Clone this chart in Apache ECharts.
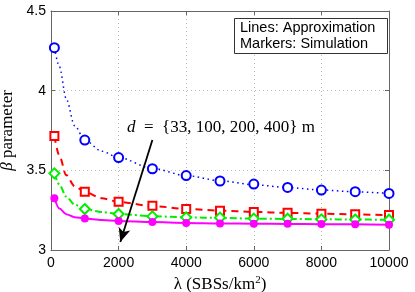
<!DOCTYPE html>
<html>
<head>
<meta charset="utf-8">
<script src="https://cdn.jsdelivr.net/npm/echarts@6/dist/echarts.min.js"></script>
<style>
html,body{margin:0;padding:0;background:#fff;}
#chart{width:415px;height:292px;}
</style>
</head>
<body>
<div id="chart"></div>
<script>
// Simulation markers
const xSim = [100, 1000, 2000, 3000, 4000, 5000, 6000, 7000, 8000, 9000, 10000];
const simD33  = [4.27, 3.69, 3.58, 3.51, 3.467, 3.433, 3.414, 3.393, 3.376, 3.366, 3.355];
const simD100 = [3.715, 3.365, 3.303, 3.278, 3.257, 3.246, 3.238, 3.234, 3.228, 3.224, 3.219];
const simD200 = [3.481, 3.257, 3.226, 3.211, 3.205, 3.203, 3.197, 3.196, 3.192, 3.191, 3.190];
const simD400 = [3.325, 3.198, 3.182, 3.175, 3.169, 3.166, 3.165, 3.164, 3.163, 3.161, 3.159];

// Approximation curves
const xApx = [100, 250, 450, 700, 1000, 1500, 2000, 3000, 4000, 5000, 6000, 7000, 8000, 9000, 10000];
const apxD33  = [4.27, 4.15, 3.95, 3.78, 3.69, 3.62, 3.58, 3.512, 3.467, 3.435, 3.41, 3.392, 3.377, 3.365, 3.355];
const apxD100 = [3.715, 3.59, 3.47, 3.40, 3.365, 3.325, 3.302, 3.276, 3.258, 3.247, 3.239, 3.233, 3.228, 3.223, 3.219];
const apxD200 = [3.481, 3.41, 3.335, 3.285, 3.257, 3.238, 3.226, 3.212, 3.205, 3.201, 3.197, 3.195, 3.193, 3.191, 3.190];
const apxD400 = [3.325, 3.26, 3.225, 3.206, 3.198, 3.188, 3.182, 3.175, 3.170, 3.167, 3.165, 3.163, 3.162, 3.161, 3.159];

const xTicks = [0, 2000, 4000, 6000, 8000, 10000];
const yTicks = [3, 3.5, 4, 4.5];
const annotText = '{33, 100, 200, 400}';
const arrowFrom = [3000, 3.69];
const arrowTo = [2050, 3.05];

const zip = (xs, ys) => xs.map((x, i) => [x, ys[i]]);

const chart = echarts.init(document.getElementById('chart'), null, {renderer: 'canvas'});
const axisColor = '#666';
const tickFont = {fontFamily: 'Liberation Sans, Arial, sans-serif', fontSize: 14, color: '#000'};

function lineSeries(data, color, type, width) {
  return {type: 'line', data: data, showSymbol: false, symbol: 'none', smooth: 0.3, smoothMonotone: 'x',
    lineStyle: {color: color, width: width, type: type}, z: 2, silent: true, animation: false};
}
function markSeries(data, color, symbol, size, filled) {
  return {type: 'scatter', data: data, symbol: symbol, symbolSize: size,
    itemStyle: {color: filled ? color : '#fff', borderColor: color, borderWidth: filled ? 0 : 2, opacity: 1},
    z: 3, silent: true, animation: false};
}

const option = {
  backgroundColor: '#fff',
  animation: false,
  grid: {left: 51, right: 26, top: 11, bottom: 42, containLabel: false, outerBoundsMode: 'none'},
  xAxis: [{
    type: 'value', min: 0, max: 10000, interval: 2000,
    name: 'λ (SBSs/km{s|2})', nameLocation: 'middle', nameGap: 16,
    nameTextStyle: {fontFamily: 'Liberation Serif, Times New Roman, serif', fontSize: 17, color: '#000',
      rich: {s: {fontFamily: 'Liberation Serif, serif', fontSize: 11, verticalAlign: 'top', padding: [0,0,8,0], color: '#000'}}},
    axisLine: {show: true, onZero: false, lineStyle: {color: axisColor, width: 1}},
    axisTick: {show: true, inside: true, length: 4, lineStyle: {color: axisColor}},
    axisLabel: Object.assign({margin: 6, formatter: v => xTicks.includes(v) ? String(v) : ''}, tickFont),
    splitLine: {show: true, lineStyle: {color: '#bbb', type: [1, 3], width: 1}}
  }, {
    type: 'value', position: 'top', min: 0, max: 10000, interval: 2000,
    axisLine: {show: true, onZero: false, lineStyle: {color: axisColor, width: 1}},
    axisTick: {show: true, inside: true, length: 4, lineStyle: {color: axisColor}},
    axisLabel: {show: false}, splitLine: {show: false}
  }],
  yAxis: [{
    type: 'value', min: 3, max: 4.5, interval: 0.5,
    name: '{b|β} parameter', nameLocation: 'middle', nameGap: 25, nameRotate: 90,
    nameTextStyle: {fontFamily: 'Liberation Serif, Times New Roman, serif', fontSize: 17, color: '#000',
      rich: {b: {fontFamily: 'Liberation Serif, serif', fontStyle: 'italic', fontSize: 17, color: '#000'}}},
    axisLine: {show: true, onZero: false, lineStyle: {color: axisColor, width: 1}},
    axisTick: {show: true, inside: true, length: 4, lineStyle: {color: axisColor}},
    axisLabel: Object.assign({margin: 5, formatter: v => yTicks.includes(v) ? String(v) : ''}, tickFont),
    splitLine: {show: true, lineStyle: {color: '#bbb', type: [1, 3], width: 1}}
  }, {
    type: 'value', position: 'right', min: 3, max: 4.5, interval: 0.5,
    axisLine: {show: true, onZero: false, lineStyle: {color: axisColor, width: 1}},
    axisTick: {show: true, inside: true, length: 4, lineStyle: {color: axisColor}},
    axisLabel: {show: false}, splitLine: {show: false}
  }],
  series: [
    lineSeries(zip(xApx, apxD33), '#0000ff', [1.5, 3.5], 1.5),
    lineSeries(zip(xApx, apxD100), '#ff0000', [7, 5], 2),
    lineSeries(zip(xApx, apxD200), '#00ee00', [7, 3, 2, 3], 2),
    lineSeries(zip(xApx, apxD400), '#ff00ff', 'solid', 2),
    markSeries(zip(xSim, simD33), '#0000ff', 'circle', 9, false),
    markSeries(zip(xSim, simD100), '#ff0000', 'rect', 8, false),
    markSeries(zip(xSim, simD200), '#00ee00', 'diamond', 10, false),
    Object.assign(markSeries(zip(xSim, simD400), '#ff00ff', 'circle', 8, true), {
      markLine: {
        silent: true, animation: false, symbol: ['none', 'arrow'], symbolSize: [9, 14],
        label: {show: false},
        lineStyle: {color: '#000', width: 1.8, type: 'solid'},
        data: [[{coord: arrowFrom}, {coord: arrowTo}]]
      }
    })
  ],
  graphic: [
    {type: 'text', left: 127, top: 119, z: 10,
     style: {text: '{i|d}  =  ' + annotText + ' m', fill: '#000',
       font: '17px "Liberation Serif", serif',
       rich: {i: {fontStyle: 'italic', fontFamily: 'Liberation Serif, serif', fontSize: 17}}}},
    {type: 'rect', left: 234, top: 18, z: 10,
     shape: {width: 153, height: 35}, style: {fill: '#fff', stroke: '#333', lineWidth: 1}},
    {type: 'text', left: 240, top: 20, z: 11,
     style: {text: 'Lines: Approximation', fill: '#000', font: '14.5px "Liberation Sans", Arial, sans-serif'}},
    {type: 'text', left: 240, top: 36, z: 11,
     style: {text: 'Markers: Simulation', fill: '#000', font: '14.5px "Liberation Sans", Arial, sans-serif'}}
  ]
};
chart.setOption(option);
</script>
</body>
</html>
